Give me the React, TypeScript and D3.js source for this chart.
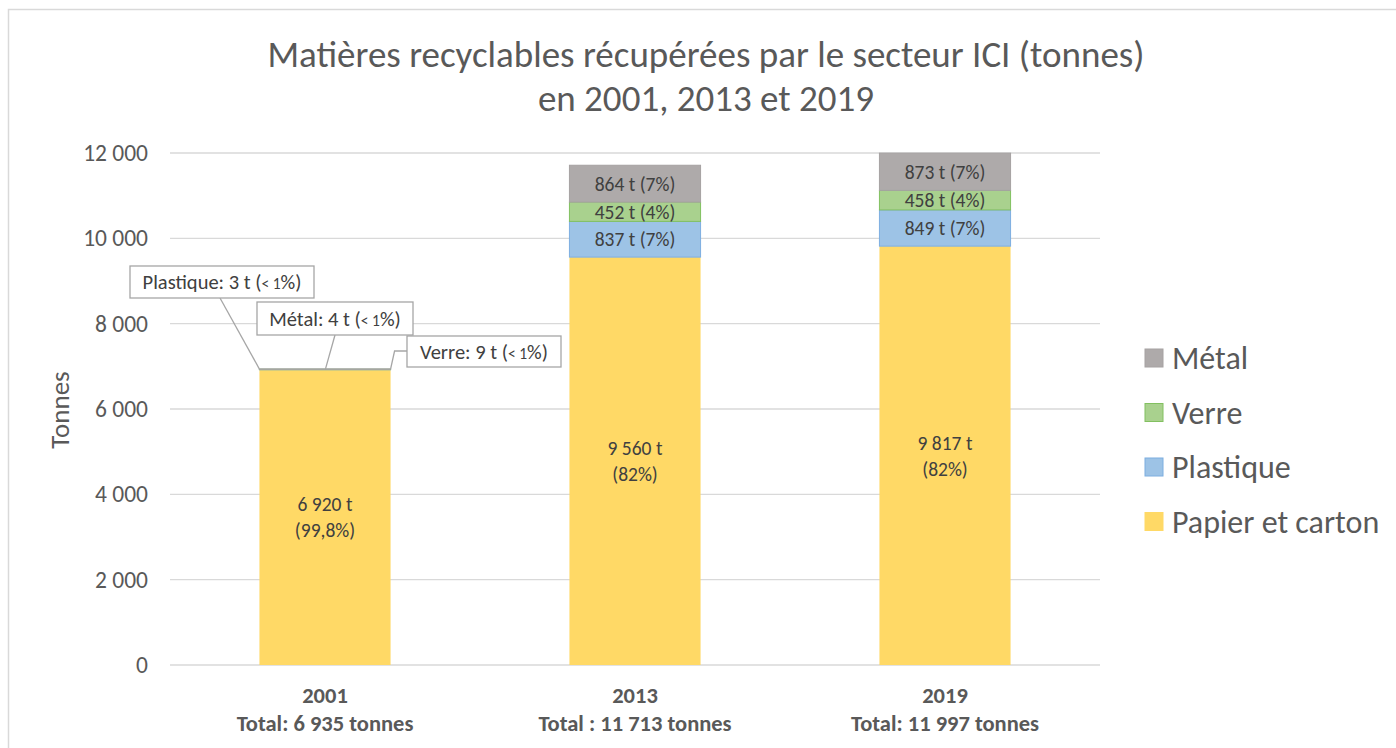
import React from "react";
import * as d3 from "d3";

const years = ["2001", "2013", "2019"];
const totalLabels = ["Total: 6 935 tonnes", "Total : 11 713 tonnes", "Total: 11 997 tonnes"];
const seriesNames = ["Papier et carton", "Plastique", "Verre", "Métal"];
const papier = [6920, 9560, 9817];
const plastique = [3, 837, 849];
const verre = [9, 452, 458];
const metal = [4, 864, 873];
const yTicks = [0, 2000, 4000, 6000, 8000, 10000, 12000];
const titleLines = ["Matières recyclables récupérées par le secteur ICI (tonnes)", "en 2001, 2013 et 2019"];
const calloutNames = ["Plastique", "Métal", "Verre"];

const W = 1396;
const H = 748;
const FONT = "Calibri, Carlito, Lato, 'Open Sans', sans-serif";

const fills: Record<string, string> = {
  "Papier et carton": "#FFD966",
  Plastique: "#9DC3E6",
  Verre: "#A9D18E",
  "Métal": "#AEAAAA",
};
const strokes: Record<string, string> = {
  "Papier et carton": "#FFD966",
  Plastique: "#7DAEE0",
  Verre: "#82C060",
  "Métal": "#A6A2A2",
};

const locale = d3.formatLocale({ decimal: ",", thousands: " ", grouping: [3], currency: ["", " €"] });
const fmtInt = locale.format(",d");
const fmtPct1 = locale.format(".1f");

export default function App() {
  const rows = years.map((y, i) => ({
    year: y,
    "Papier et carton": papier[i],
    Plastique: plastique[i],
    Verre: verre[i],
    "Métal": metal[i],
  }));
  const stacked = d3.stack<any>().keys(seriesNames)(rows);
  const totals = rows.map((r) => seriesNames.reduce((s, k) => s + (r as any)[k], 0));

  const x = d3.scaleBand().domain(years).range([170, 1100]).padding(0);
  const y = d3.scaleLinear().domain([0, 12000]).range([665, 153]);
  const barW = x.bandwidth() * 0.423;
  const cx = (yr: string) => (x(yr) as number) + x.bandwidth() / 2;

  const pctText = (v: number, t: number, i: number) => {
    const p = (v / t) * 100;
    if (i === 0) return `(${fmtPct1(p)}%)`;
    return `(${Math.round(p)}%)`;
  };

  const x01 = cx("2001");
  const left01 = x01 - barW / 2;
  const right01 = x01 + barW / 2;
  const top01 = y(totals[0]);
  const calloutVals: Record<string, number> = { Plastique: plastique[0], "Métal": metal[0], Verre: verre[0] };

  return (
    <svg width={W} height={H} style={{ position: "absolute", left: 0, top: 0, background: "#fff" }} fontFamily={FONT}>
      <rect x={8.5} y={9.5} width={W + 10} height={H + 10} fill="#fff" stroke="#D9D9D9" strokeWidth={1.5} />

      {titleLines.map((t, i) => (
        <text key={i} x={706} y={67 + i * 44} textAnchor="middle" fontSize={37} fill="#595959" fontWeight={300}>
          {t}
        </text>
      ))}

      {yTicks.map((t) => (
        <g key={t}>
          <line x1={170} x2={1100} y1={y(t)} y2={y(t)} stroke="#D9D9D9" strokeWidth={1.3} />
          <text x={148} y={y(t) + 8} textAnchor="end" fontSize={23.5} fill="#595959">
            {fmtInt(t)}
          </text>
        </g>
      ))}

      <text transform={`translate(69,410) rotate(-90)`} textAnchor="middle" fontSize={27} fill="#595959">
        Tonnes
      </text>

      {stacked.map((s) => (
        <g key={s.key}>
          {s.map((d, i) => {
            const yr = years[i];
            return (
              <rect
                key={yr}
                x={cx(yr) - barW / 2}
                width={barW}
                y={y(d[1])}
                height={Math.max(0, y(d[0]) - y(d[1]))}
                fill={fills[s.key]}
                stroke={strokes[s.key]}
                strokeWidth={s.key === "Papier et carton" ? 0 : 1}
              />
            );
          })}
        </g>
      ))}

      {stacked.map((s) => (
        <g key={s.key + "lbl"}>
          {s.map((d, i) => {
            const yr = years[i];
            const v = d[1] - d[0];
            const mid = y((d[0] + d[1]) / 2);
            if (s.key === "Papier et carton") {
              return (
                <g key={yr}>
                  <text x={cx(yr)} y={mid - 6} textAnchor="middle" fontSize={19.5} fill="#404040">
                    {fmtInt(v)} t
                  </text>
                  <text x={cx(yr)} y={mid + 20} textAnchor="middle" fontSize={19.5} fill="#404040">
                    {pctText(v, totals[i], i)}
                  </text>
                </g>
              );
            }
            if (i === 0) return null;
            return (
              <text key={yr} x={cx(yr)} y={mid + 7} textAnchor="middle" fontSize={19.5} fill="#404040">
                {fmtInt(v)} t {pctText(v, totals[i], i)}
              </text>
            );
          })}
        </g>
      ))}

      <g stroke="#A6A6A6" strokeWidth={1.3} fill="none">
        <line x1={left01} x2={right01} y1={top01} y2={top01} />
        <polyline points={`220,298 ${left01},${top01}`} />
        <polyline points={`335,335 ${left01 + 66},${top01}`} />
        <polyline points={`${right01},${top01} ${right01 + 4},351 407,351`} />
        <rect x={130} y={266} width={184} height={32} fill="#fff" />
        <rect x={257} y={302} width={156} height={33} fill="#fff" />
        <rect x={407} y={336} width={154} height={31} fill="#fff" />
      </g>
      {[
        { name: calloutNames[0], bx: 130, by: 266, bw: 184, bh: 32 },
        { name: calloutNames[1], bx: 257, by: 302, bw: 156, bh: 33 },
        { name: calloutNames[2], bx: 407, by: 336, bw: 154, bh: 31 },
      ].map((c) => (
        <text key={c.name} x={c.bx + c.bw / 2} y={c.by + c.bh / 2 + 7} textAnchor="middle" fontSize={20.5} fill="#404040">
          {`${c.name}: ${calloutVals[c.name]} t (`}
          <tspan fontSize={15.5}>{"< 1"}</tspan>
          {"%)"}
        </text>
      ))}

      {years.map((yr, i) => (
        <g key={yr}>
          <text x={cx(yr)} y={703} textAnchor="middle" fontSize={22.5} fontWeight={700} fill="#595959">
            {yr}
          </text>
          <text x={cx(yr)} y={731} textAnchor="middle" fontSize={22.5} fontWeight={700} fill="#595959">
            {totalLabels[i]}
          </text>
        </g>
      ))}

      {seriesNames
        .slice()
        .reverse()
        .map((n, i) => {
          const cy = 358 + i * 54.5;
          return (
            <g key={n}>
              <rect x={1145} y={cy - 9} width={18} height={18} fill={fills[n]} stroke={strokes[n]} strokeWidth={1} />
              <text x={1172} y={cy + 11} fontSize={32} fill="#595959">
                {n}
              </text>
            </g>
          );
        })}
    </svg>
  );
}
